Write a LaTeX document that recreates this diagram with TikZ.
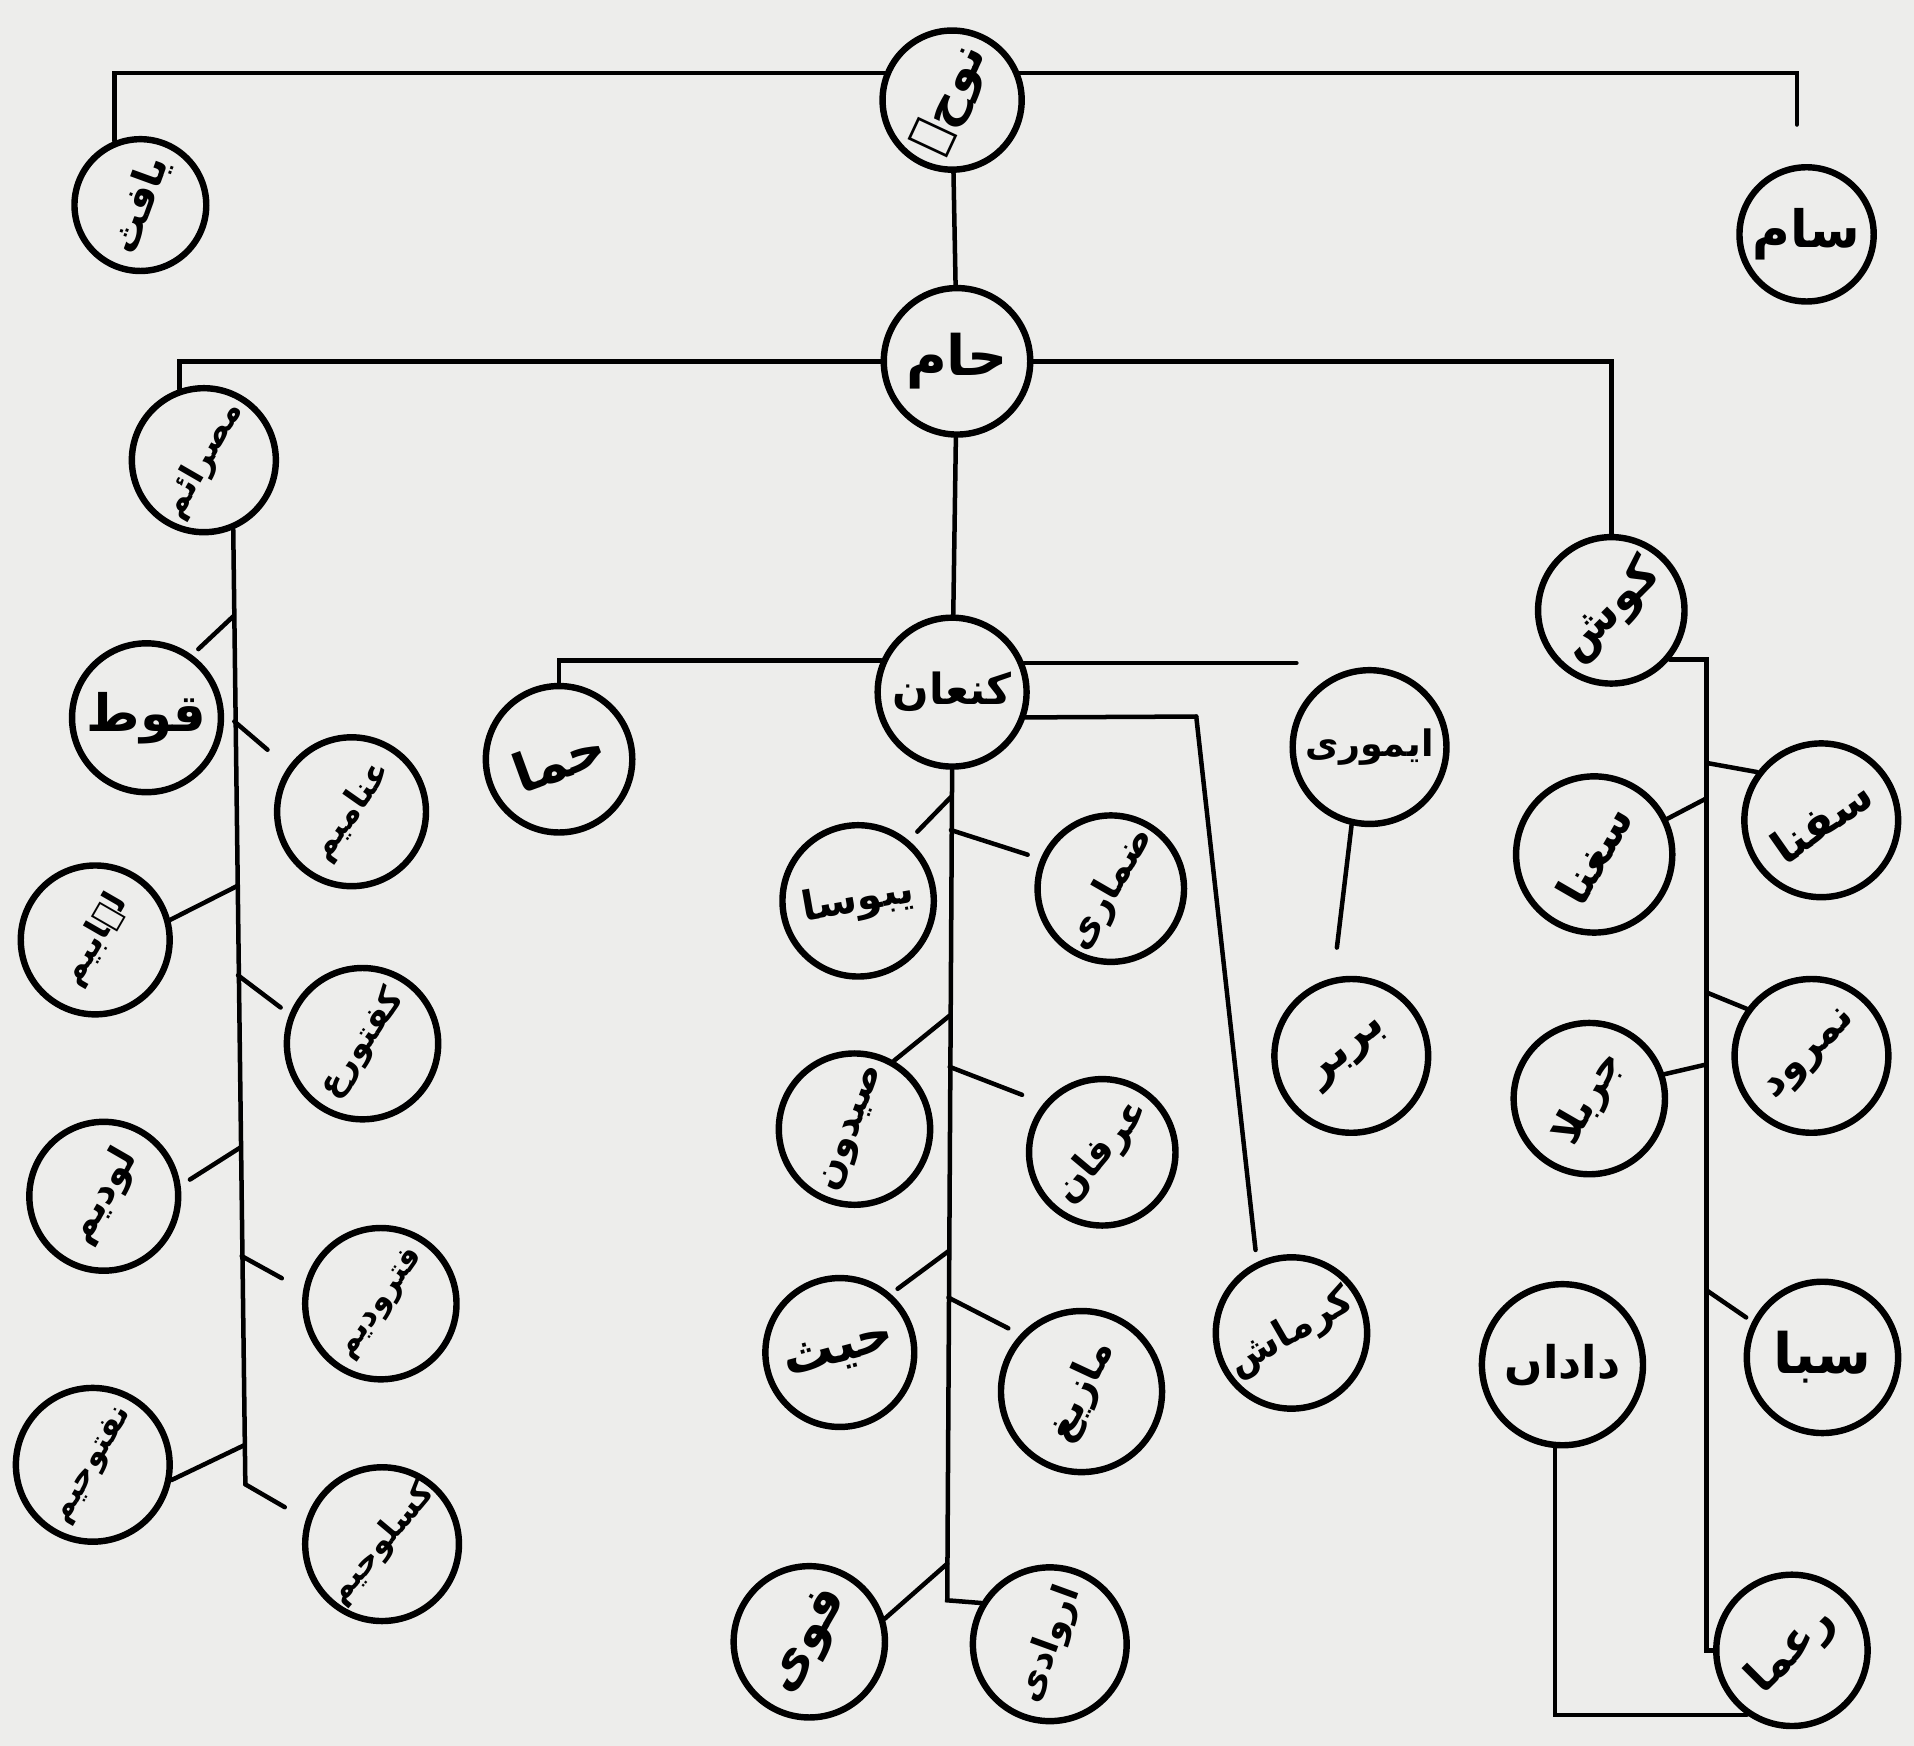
\documentclass[tikz,border=0pt]{standalone}
\usepackage{fontspec}
\usepackage{graphicx}
\TeXXeTstate=1
\newfontfamily\arfont[Script=Arabic]{DejaVu Sans}
\definecolor{paper}{RGB}{237,237,235}
\newcommand\uf[1]{\fontsize{#1}{#1}\selectfont\arfont\bfseries}
\tikzset{
  pn/.style={circle, draw=black, line width=3pt, inner sep=0pt, minimum size=#1},
  ln/.style={line width=2.1pt, line cap=round, line join=miter, draw=black},
}
\newcommand\pnode[6]{\node[pn=#4, label={[rotate=#5, font=\uf{#6}, inner sep=0pt]center:\beginR #3\endR}] (#1) at (#2) {};}
\begin{document}
\begin{tikzpicture}[x=0.02cm,y=-0.02cm]
\fill[paper] (0,0) rectangle (1568,1430);
\useasboundingbox (0,0) rectangle (1568,1430);

% ---- nodes ----
\pnode{noah}{780,82}{نوحؑ}{2.28cm}{65}{23pt}
\pnode{yafith}{115,168}{یافث}{2.16cm}{70}{19pt}
\pnode{sam}{1480,192}{سام}{2.2cm}{0}{24pt}
\pnode{ham}{784,296}{حام}{2.4cm}{0}{26pt}
\pnode{misraim}{167,377}{مصرائم}{2.36cm}{60}{16pt}
\pnode{qut}{120,588}{قوط}{2.44cm}{0}{24pt}
\pnode{anamim}{288,665}{عنامیم}{2.44cm}{55}{16pt}
\pnode{lehabim}{78,770}{لہابیم}{2.44cm}{60}{16pt}
\pnode{kaftur}{297,855}{کفتورع}{2.48cm}{55}{16pt}
\pnode{ludim}{85,980}{لودیم}{2.44cm}{60}{18pt}
\pnode{fatrudim}{312,1068}{فترودیم}{2.48cm}{55}{15pt}
\pnode{naftuhim}{76,1200}{نفتوحیم}{2.52cm}{60}{15pt}
\pnode{kasluhim}{313,1265}{کسلوحیم}{2.52cm}{50}{15pt}
\pnode{hama}{458,622}{حما}{2.4cm}{20}{25pt}
\pnode{kanan}{780,567}{کنعان}{2.44cm}{0}{20pt}
\pnode{ebusa}{703,738}{یبوسا}{2.48cm}{10}{19pt}
\pnode{zamari}{910,728}{ضماری}{2.4cm}{60}{18pt}
\pnode{sidon}{700,925}{صیدون}{2.48cm}{70}{18pt}
\pnode{irfan}{903,944}{عرفان}{2.4cm}{50}{18pt}
\pnode{hith}{688,1108}{حیث}{2.44cm}{15}{24pt}
\pnode{mazigh}{886,1140}{مازیغ}{2.64cm}{65}{19pt}
\pnode{fawi}{663,1345}{فوی}{2.48cm}{60}{24pt}
\pnode{arwadi}{860,1347}{اروادی}{2.52cm}{70}{17pt}
\pnode{amori}{1122,612}{ایموری}{2.52cm}{0}{17pt}
\pnode{barbar}{1107,865}{بربر}{2.52cm}{40}{21pt}
\pnode{karmash}{1058,1092}{کرماش}{2.48cm}{30}{18pt}
\pnode{kush}{1320,500}{کوش}{2.4cm}{45}{22pt}
\pnode{safna}{1492,672}{سفنا}{2.52cm}{35}{21pt}
\pnode{saghna}{1306,700}{سغنا}{2.56cm}{60}{21pt}
\pnode{namrud}{1484,865}{نمرود}{2.52cm}{45}{19pt}
\pnode{jarbala}{1302,900}{جربلا}{2.48cm}{60}{19pt}
\pnode{saba}{1493,1112}{سبا}{2.48cm}{0}{26pt}
\pnode{dadan}{1280,1118}{داداں}{2.64cm}{0}{21pt}
\pnode{raama}{1468,1352}{رعما}{2.48cm}{45}{21pt}

% ---- top level ----
\coordinate (samtop) at (1472,102);
\draw[ln] (noah.158) -| (yafith.112);
\draw[ln] (noah.22) -| (samtop);
\draw[ln] (noah) -- (ham);
\draw[ln] (ham.west) -| (misraim.109);
\draw[ln] (ham.east) -| (kush.north);
\draw[ln] (ham) -- (kanan);

% ---- Misraim ----
\coordinate (mb) at (201,1216);
\coordinate (m1) at (191,505);
\coordinate (m2) at (192,591);
\coordinate (m3) at (194,726);
\coordinate (m4) at (195,799);
\coordinate (m5) at (197,940);
\coordinate (m6) at (198,1029);
\coordinate (m7) at (200,1184);
\draw[ln] (misraim.-67) -- (mb);
\draw[ln, shorten >=0.4cm] (mb) -- (kasluhim.162);
\draw[ln, shorten >=0.14cm] (m1) -- (qut.54);
\draw[ln, shorten >=0.44cm] (m2) -- (anamim.145);
\draw[ln] (m3) -- (lehabim.15);
\draw[ln, shorten >=0.18cm] (m4) -- (kaftur.158);
\draw[ln, shorten >=0.18cm] (m5) -- (ludim.8);
\draw[ln, shorten >=0.4cm] (m6) -- (fatrudim.170);
\draw[ln] (m7) -- (naftuhim.-11);

% ---- Kanan ----
\coordinate (ar) at (1062,0);
\coordinate (kc) at (980,587);
\coordinate (cb) at (776,1311);
\coordinate (c1) at (779,653);
\coordinate (c2) at (779,680);
\coordinate (c3) at (778,832);
\coordinate (c4) at (778,874);
\coordinate (c5) at (777,1025);
\coordinate (c6) at (777,1063);
\coordinate (c7) at (776,1281);
\draw[ln] (kanan.156) -| (hama.north);
\draw[ln] (kanan.22) -- (kanan.22 -| ar);
\draw[ln] (kanan.-19) -- (kc);
\draw[ln, shorten >=0.2cm] (kc) -- (karmash.116);
\draw[ln] (kanan.south) -- (cb) -- (arwadi.149);
\draw[ln, shorten >=0.2cm] (c1) -- (ebusa.50);
\draw[ln, shorten >=0.22cm] (c2) -- (zamari.157);
\draw[ln] (c3) -- (sidon.60);
\draw[ln, shorten >=0.38cm] (c4) -- (irfan.140);
\draw[ln, shorten >=0.14cm] (c5) -- (hith.49);
\draw[ln, shorten >=0.22cm] (c6) -- (mazigh.137);
\draw[ln] (c7) -- (fawi.17);
\draw[ln, shorten >=0.5cm] (amori.-103) -- (barbar.103);

% ---- Kush ----
\coordinate (kb) at (1398,1352);
\coordinate (k1) at (1398,625);
\coordinate (k2) at (1398,654);
\coordinate (k3) at (1398,813);
\coordinate (k4) at (1398,872);
\coordinate (k5) at (1398,1057);
\draw[ln] (kush.-40) -| (kb) -- (raama.west);
\draw[ln] (k1) -- (safna.143);
\draw[ln] (k2) -- (saghna.26);
\draw[ln] (k3) -- (namrud.144);
\draw[ln] (k4) -- (jarbala.18);
\draw[ln, shorten >=0.12cm] (k5) -- (saba.153);
\draw[ln] (dadan.-95) |- (raama.-125);
\end{tikzpicture}
\end{document}
